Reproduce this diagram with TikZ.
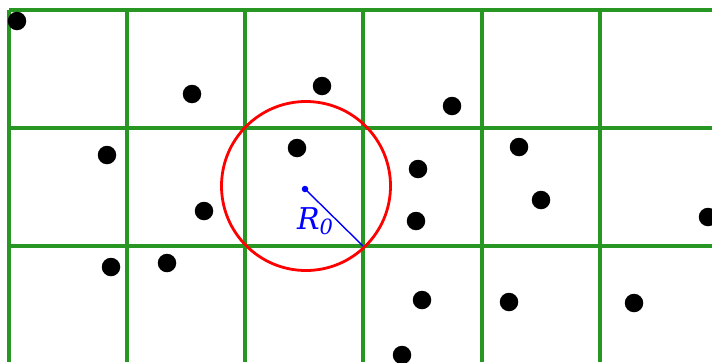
\documentclass[tikz,border=0pt]{standalone}
\usepackage{fontspec}
\setmainfont{DejaVu Serif}
\definecolor{gridgreen}{RGB}{40,150,35}
\begin{document}
\begin{tikzpicture}[x=1pt,y=-1pt,
  vline/.style={draw=gridgreen,line width=3.2pt},
  hline/.style={draw=gridgreen,line width=3.8pt},
  pt/.style={circle,fill=black,inner sep=0pt,minimum size=18.5pt},
  ctr/.style={circle,fill=blue,inner sep=0pt,minimum size=6.5pt}]
\useasboundingbox (0,0) rectangle (712,362);
\fill[white] (0,0) rectangle (712,362);
% grid
\foreach \x in {9,127,245,363,482,600} \draw[vline] (\x,10) -- (\x,362);
\foreach \y in {10,128,246} \draw[hline] (9,\y) -- (712,\y);
% points
\node[pt] (p1) at (17,21) {};
\node[pt] (p2) at (192,94) {};
\node[pt] (p3) at (322,86) {};
\node[pt] (p4) at (452,106) {};
\node[pt] (p5) at (107,155) {};
\node[pt] (p6) at (297,148) {};
\node[pt] (p7) at (418,169) {};
\node[pt] (p8) at (519,147) {};
\node[pt] (p9) at (204,211) {};
\node[pt] (p10) at (541,200) {};
\node[pt] (p11) at (416,221) {};
\node[pt] (p12) at (708,217) {};
\node[pt] (p13) at (111,267) {};
\node[pt] (p14) at (167,263) {};
\node[pt] (p15) at (422,300) {};
\node[pt] (p16) at (509,302) {};
\node[pt] (p17) at (634,303) {};
\node[pt] (p18) at (402,355) {};
% circle
\draw[red,line width=2.8pt] (306,186) circle[radius=84.5];
\node[ctr] (c) at (305,189) {};
\coordinate (e) at (363,246);
\draw[blue,line width=1.4pt] (c.center) -- (e);
\node[text=blue,font=\fontsize{30}{34}\selectfont\itshape,inner sep=0pt] (lab) at (315,221) {R\raisebox{-0.3ex}{\fontsize{21}{24}\selectfont 0}};
\end{tikzpicture}
\end{document}
